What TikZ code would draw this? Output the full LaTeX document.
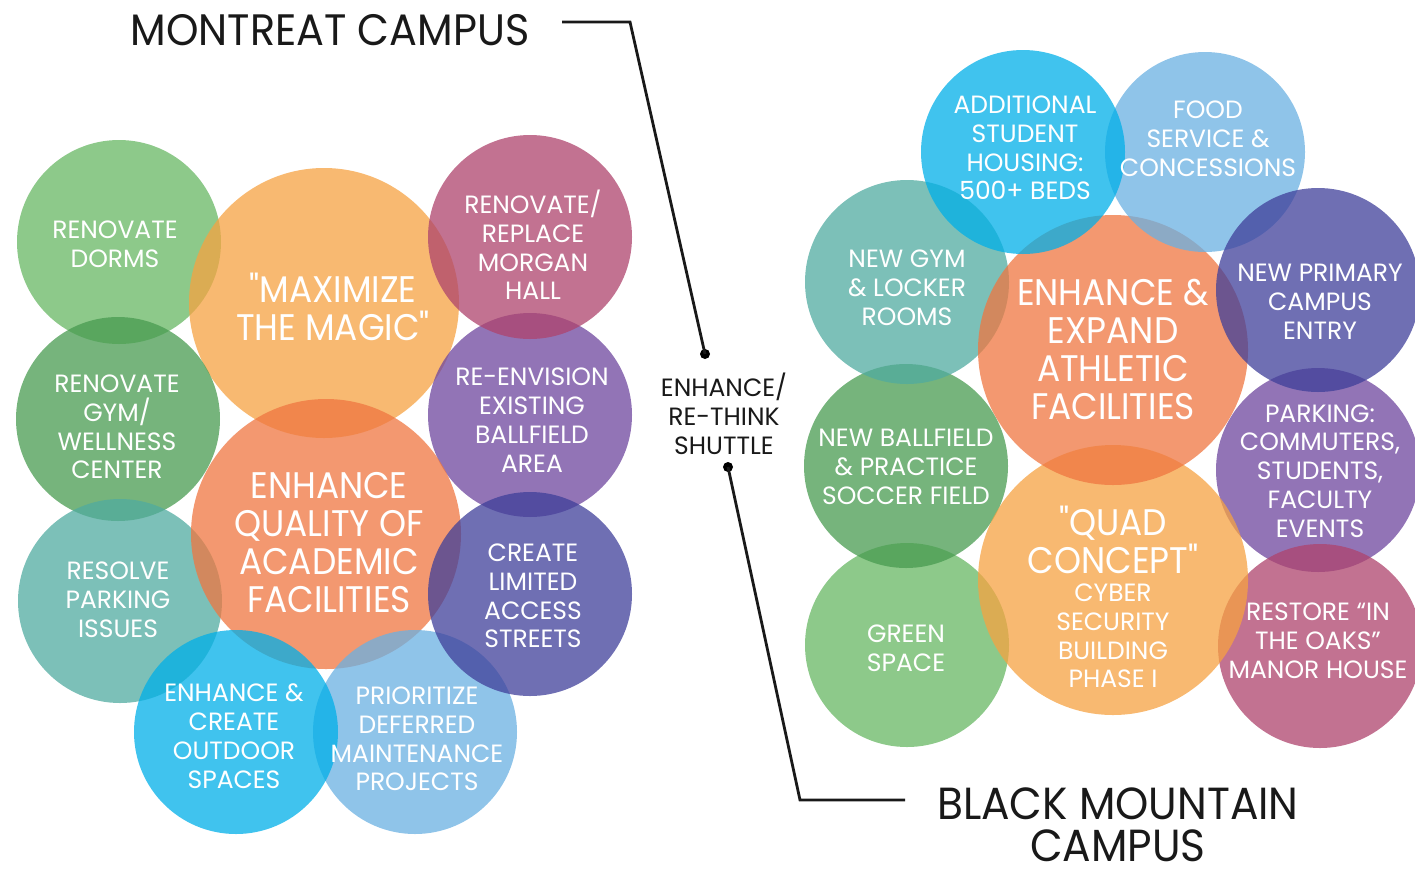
\documentclass[tikz,border=0pt]{standalone}
\usepackage{fontspec}
\setmainfont{Poppins}
\newfontfamily\bigfam{Poppins}[FakeStretch=0.93]
\newfontfamily\titlefam{Poppins}[FakeStretch=0.94]
\begin{document}
% bubble colours (drawn at 75% opacity over white)
\definecolor{cGreenL}{RGB}{103,183,99}
\definecolor{cGreenD}{RGB}{72,155,80}
\definecolor{cOrangeL}{RGB}{246,162,66}
\definecolor{cOrange}{RGB}{239,118,64}
\definecolor{cPink}{RGB}{174,67,108}
\definecolor{cPurple}{RGB}{110,70,158}
\definecolor{cIndigo}{RGB}{63,63,154}
\definecolor{cTeal}{RGB}{80,171,160}
\definecolor{cCyan}{RGB}{0,175,232}
\definecolor{cBlueL}{RGB}{106,176,226}
\newcommand\smalltxt{\fontsize{25}{28.8}\selectfont}
\newcommand\bigtxt{\bigfam\fontsize{37}{38}\selectfont}
\newcommand\titletxt{\titlefam\fontsize{44}{46}\selectfont}
% straight double quote, untouched by the TeX ligature mapping
\newcommand\sq{\char34\relax}
\begin{tikzpicture}[x=1pt,y=-1pt,
  bub/.style={circle, inner sep=0pt, minimum size=#1, fill opacity=0.75},
  lbl/.style={align=center, text=white, inner sep=0pt, font=\smalltxt},
  biglbl/.style={align=center, text=white, inner sep=0pt, font=\bigtxt},
  ttl/.style={text=black!90, inner sep=0pt, font=\titletxt},
  dotnode/.style={circle, fill=black, inner sep=0pt, minimum size=10},
  leader/.style={line width=2.8pt, black!90}]
\useasboundingbox (0,0) rectangle (1415,871);

% ---- Montreat campus bubbles (bottom to top)
\node[bub=204, fill=cGreenL]  (dorms)    at (119,242) {};
\node[bub=270, fill=cOrangeL] (magic)    at (324,303) {};
\node[bub=204, fill=cGreenD]  (gym)      at (118,419) {};
\node[bub=204, fill=cTeal]    (parking)  at (120,601) {};
\node[bub=204, fill=cPurple]  (ballfld)  at (530,415) {};
\node[bub=270, fill=cOrange]  (academic) at (326,534) {};
\node[bub=204, fill=cPink]    (morgan)   at (530,237) {};
\node[bub=204, fill=cBlueL]   (deferred) at (415,732) {};
\node[bub=204, fill=cCyan]    (outdoor)  at (236,732) {};
\node[bub=204, fill=cIndigo]  (streets)  at (530,594) {};

% ---- Black Mountain campus bubbles (bottom to top)
\node[bub=204, fill=cGreenL]  (green)    at (907,645) {};
\node[bub=204, fill=cGreenD]  (newfield) at (906,466) {};
\node[bub=204, fill=cTeal]    (newgym)   at (907,282) {};
\node[bub=204, fill=cPurple]  (bmpark)   at (1318,470) {};
\node[bub=204, fill=cPink]    (oaks)     at (1320,646) {};
\node[bub=270, fill=cOrangeL] (quad)     at (1113,580) {};
\node[bub=270, fill=cOrange]  (athletic) at (1113,350) {};
\node[bub=200, fill=cBlueL]   (food)     at (1205,152) {};
\node[bub=204, fill=cIndigo]  (entry)    at (1318,290) {};
\node[bub=204, fill=cCyan]    (housing)  at (1023,152) {};

% ---- labels
\node[lbl]    at (115,244) {RENOVATE\\DORMS};
\node[biglbl] at (333,307) {\sq MAXIMIZE\\THE MAGIC\sq};
\node[lbl]    at (533,245) {RENOVATE/\\REPLACE\\MORGAN\\HALL};
\node[lbl]    at (117,427) {RENOVATE\\GYM/\\WELLNESS\\CENTER};
\node[lbl]    at (532,420) {RE-ENVISION\\EXISTING\\BALLFIELD\\AREA};
\node[biglbl] at (329,543) {ENHANCE\\QUALITY OF\\ACADEMIC\\FACILITIES};
\node[lbl]    at (118,600) {RESOLVE\\PARKING\\ISSUES};
\node[lbl]    at (533,596) {CREATE\\LIMITED\\ACCESS\\STREETS};
\node[lbl]    at (234,736) {ENHANCE \&\\CREATE\\OUTDOOR\\SPACES};
\node[lbl]    at (417,739) {PRIORITIZE\\DEFERRED\\MAINTENANCE\\PROJECTS};

\node[lbl]    at (1025,148) {ADDITIONAL\\STUDENT\\HOUSING:\\500+ BEDS};
\node[lbl]    at (1208,139) {FOOD\\SERVICE \&\\CONCESSIONS};
\node[lbl]    at (907,288)  {NEW GYM\\\& LOCKER\\ROOMS};
\node[biglbl] at (1113,349) {ENHANCE \&\\EXPAND\\ATHLETIC\\FACILITIES};
\node[lbl]    at (1320,302) {NEW PRIMARY\\CAMPUS\\ENTRY};
\node[lbl]    at (906,467)  {NEW BALLFIELD\\\& PRACTICE\\SOCCER FIELD};
\node[lbl]    at (1320,471) {PARKING:\\COMMUTERS,\\STUDENTS,\\FACULTY\\EVENTS};
\node[biglbl] at (1113,540) {\sq QUAD\\CONCEPT\sq};
\node[lbl]    at (1113,636) {CYBER\\SECURITY\\BUILDING\\PHASE I};
\node[lbl]    at (906,648)  {GREEN\\SPACE};
\node[lbl]    at (1318,641) {RESTORE “IN\\THE OAKS”\\MANOR HOUSE};

% ---- titles and the shuttle link
\node[ttl] (montreat) at (330,30) {MONTREAT CAMPUS};
\node[ttl, font=\titlefam\fontsize{45}{46}\selectfont] (blackmtn) at (1118,804) {BLACK MOUNTAIN};
\node[ttl, font=\titlefam\fontsize{45}{46}\selectfont] (bmcampus) at (1118,846) {CAMPUS};
\node[align=center, text=black!90, inner sep=0pt, font=\smalltxt] (shuttle) at (724,414) {ENHANCE/\\RE-THINK\\SHUTTLE};

\node[dotnode] (dotA) at (705,354) {};
\node[dotnode] (dotB) at (728,467) {};
\coordinate (mtStart) at (562,22);
\coordinate (mtBend)  at (630,22);
\coordinate (bmBend)  at (800,800);
\coordinate (bmEnd)   at (905,800);
\draw[leader] (mtStart) -- (mtBend) -- (dotA.center);
\draw[leader] (dotB.center) -- (bmBend) -- (bmEnd);
\end{tikzpicture}
\end{document}
